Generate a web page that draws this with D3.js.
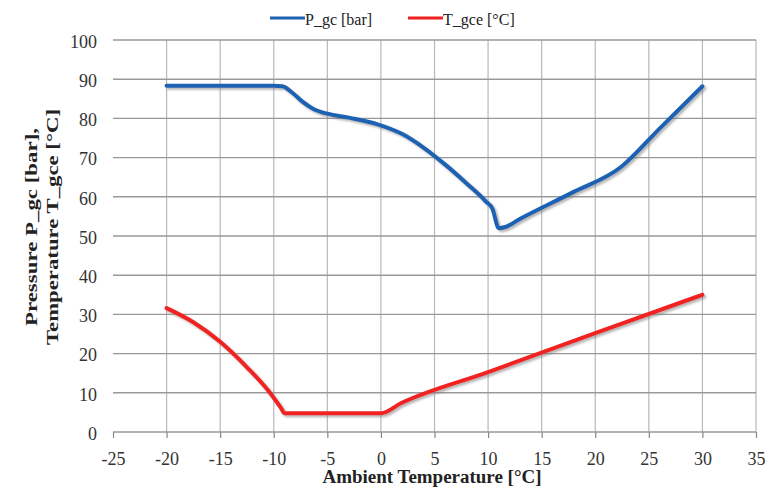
<!DOCTYPE html>
<html>
<head>
<meta charset="utf-8">
<script src="https://cdn.jsdelivr.net/npm/d3@7"></script>
<style>
  body { margin: 0; background: #fff; }
</style>
</head>
<body>
<script>
// ********************** DATA **************************************************************
// ambient temperature [°C] and gas cooler pressure [bar]
var pgcX = [-20, -15, -10, -9.2, -8.3, -7.3, -6.3, -5, -3, -0.3, 2, 4, 6, 8, 9.8, 10.4, 11, 11.6, 13, 17.8, 22.4, 26, 30];
var pgcY = [88.3, 88.3, 88.3, 88.2, 86.6, 84.2, 82.4, 81.2, 80.2, 78.5, 76, 72.5, 68.2, 63.4, 58.8, 57, 52, 52.3, 54.4, 61, 67.6, 77.4, 88.2];

// ambient temperature [°C] and gas cooler exit temperature [°C]
var tgceX = [-20, -17.5, -15, -12.5, -10.5, -9.3, -9, -5, 0, 1.9, 10, 20, 30];
var tgceY = [31.6, 28, 23, 16.5, 10.5, 6, 4.8, 4.8, 4.8, 7.4, 15.3, 25.2, 35];

var xTicks = [-25, -20, -15, -10, -5, 0, 5, 10, 15, 20, 25, 30, 35];
var yTicks = [0, 10, 20, 30, 40, 50, 60, 70, 80, 90, 100];

var seriesNames = ["P_gc [bar]", "T_gce [°C]"];
var seriesColors = ["#1d62b3", "#f02020"];

// ********************** SVG **************************************************************
var width = 771;
var height = 492;
// plot area edges (not "top", that one is window.top)
var plotLeft = 113, plotRight = 756, plotTop = 40, plotBottom = 432;
var font = "'Liberation Serif', 'Times New Roman', serif";

var svg = d3.select("body")
    .append("svg")
    .attr("width", width)
    .attr("height", height);

// soft grey shadow under the lines
var filter = svg.append("defs").append("filter")
    .attr("id", "shadow")
    .attr("x", "-10%").attr("y", "-10%")
    .attr("width", "130%").attr("height", "130%");
filter.append("feDropShadow")
    .attr("dx", 2)
    .attr("dy", 2)
    .attr("stdDeviation", 1.2)
    .attr("flood-color", "#777")
    .attr("flood-opacity", 0.55);

var x = d3.scaleLinear().domain([-25, 35]).range([plotLeft, plotRight]);
var y = d3.scaleLinear().domain([0, 100]).range([plotBottom, plotTop]);

// ********************** GRID **************************************************************
svg.append("g")
    .selectAll("line")
    .data(xTicks.slice(1))
    .enter().append("line")
    .attr("x1", d => x(d)).attr("x2", d => x(d))
    .attr("y1", plotTop).attr("y2", plotBottom)
    .attr("stroke", "#b8b8b8")
    .attr("stroke-width", 1.2);

svg.append("g")
    .selectAll("line")
    .data(yTicks)
    .enter().append("line")
    .attr("x1", plotLeft).attr("x2", plotRight)
    .attr("y1", d => y(d)).attr("y2", d => y(d))
    .attr("stroke", "#999")
    .attr("stroke-width", 1.4);

// ********************** AXES **************************************************************
var xAxis = svg.append("g")
    .attr("transform", "translate(0," + plotBottom + ")")
    .call(d3.axisBottom(x).tickValues(xTicks).tickFormat(d => String(d))
        .tickSize(6).tickSizeOuter(0).tickPadding(14));
xAxis.select(".domain").remove();
xAxis.selectAll("line").attr("stroke", "#888").attr("stroke-width", 1.2);
xAxis.selectAll("text")
    .style("font-family", font)
    .style("font-size", "18px")
    .style("fill", "#333");

var yAxis = svg.append("g")
    .attr("transform", "translate(" + plotLeft + ",0)")
    .call(d3.axisLeft(y).tickValues(yTicks).tickFormat(d => String(d))
        .tickSize(0).tickPadding(16));
yAxis.select(".domain").remove();
yAxis.selectAll("text")
    .attr("dy", "0.4em")
    .style("font-family", font)
    .style("font-size", "18px")
    .style("fill", "#333");

// ********************** LINES **************************************************************
var line = d3.line()
    .x(d => x(d[0]))
    .y(d => y(d[1]))
    .curve(d3.curveMonotoneX);

var seriesData = [
    d3.zip(pgcX, pgcY),
    d3.zip(tgceX, tgceY)
];

svg.append("g")
    .selectAll("path")
    .data(seriesData)
    .enter().append("path")
    .attr("d", line)
    .attr("fill", "none")
    .attr("stroke", (d, i) => seriesColors[i])
    .attr("stroke-width", 4)
    .attr("stroke-linejoin", "round")
    .attr("stroke-linecap", "round")
    .attr("filter", "url(#shadow)");

// ********************** LEGEND **************************************************************
var legendX = [270, 408];
var legend = svg.append("g")
    .selectAll("g")
    .data(seriesNames)
    .enter().append("g")
    .attr("transform", (d, i) => "translate(" + legendX[i] + ",18)");

legend.append("line")
    .attr("x1", 0).attr("x2", 35)
    .attr("y1", 0).attr("y2", 0)
    .attr("stroke", (d, i) => seriesColors[i])
    .attr("stroke-width", 3);

legend.append("text")
    .attr("x", 35)
    .attr("y", 7)
    .text(d => d)
    .style("font-family", font)
    .style("font-size", "16px")
    .style("fill", "#222");

// ********************** TITLES **************************************************************
svg.append("text")
    .attr("x", 432)
    .attr("y", 483)
    .attr("text-anchor", "middle")
    .attr("textLength", 219)
    .attr("lengthAdjust", "spacingAndGlyphs")
    .text("Ambient Temperature [°C]")
    .style("font-family", font)
    .style("font-size", "18px")
    .style("font-weight", "bold")
    .style("fill", "#222");

var yTitle = ["Pressure P_gc [bar],", "Temperature T_gce [°C]"];
var yTitleX = [37, 58];
var yTitleLen = [198, 236];
svg.append("g")
    .selectAll("text")
    .data(yTitle)
    .enter().append("text")
    .attr("transform", (d, i) => "translate(" + yTitleX[i] + ",227) rotate(-90)")
    .attr("text-anchor", "middle")
    .attr("textLength", (d, i) => yTitleLen[i])
    .attr("lengthAdjust", "spacingAndGlyphs")
    .text(d => d)
    .style("font-family", font)
    .style("font-size", "17px")
    .style("font-weight", "bold")
    .style("fill", "#222");
</script>
</body>
</html>
